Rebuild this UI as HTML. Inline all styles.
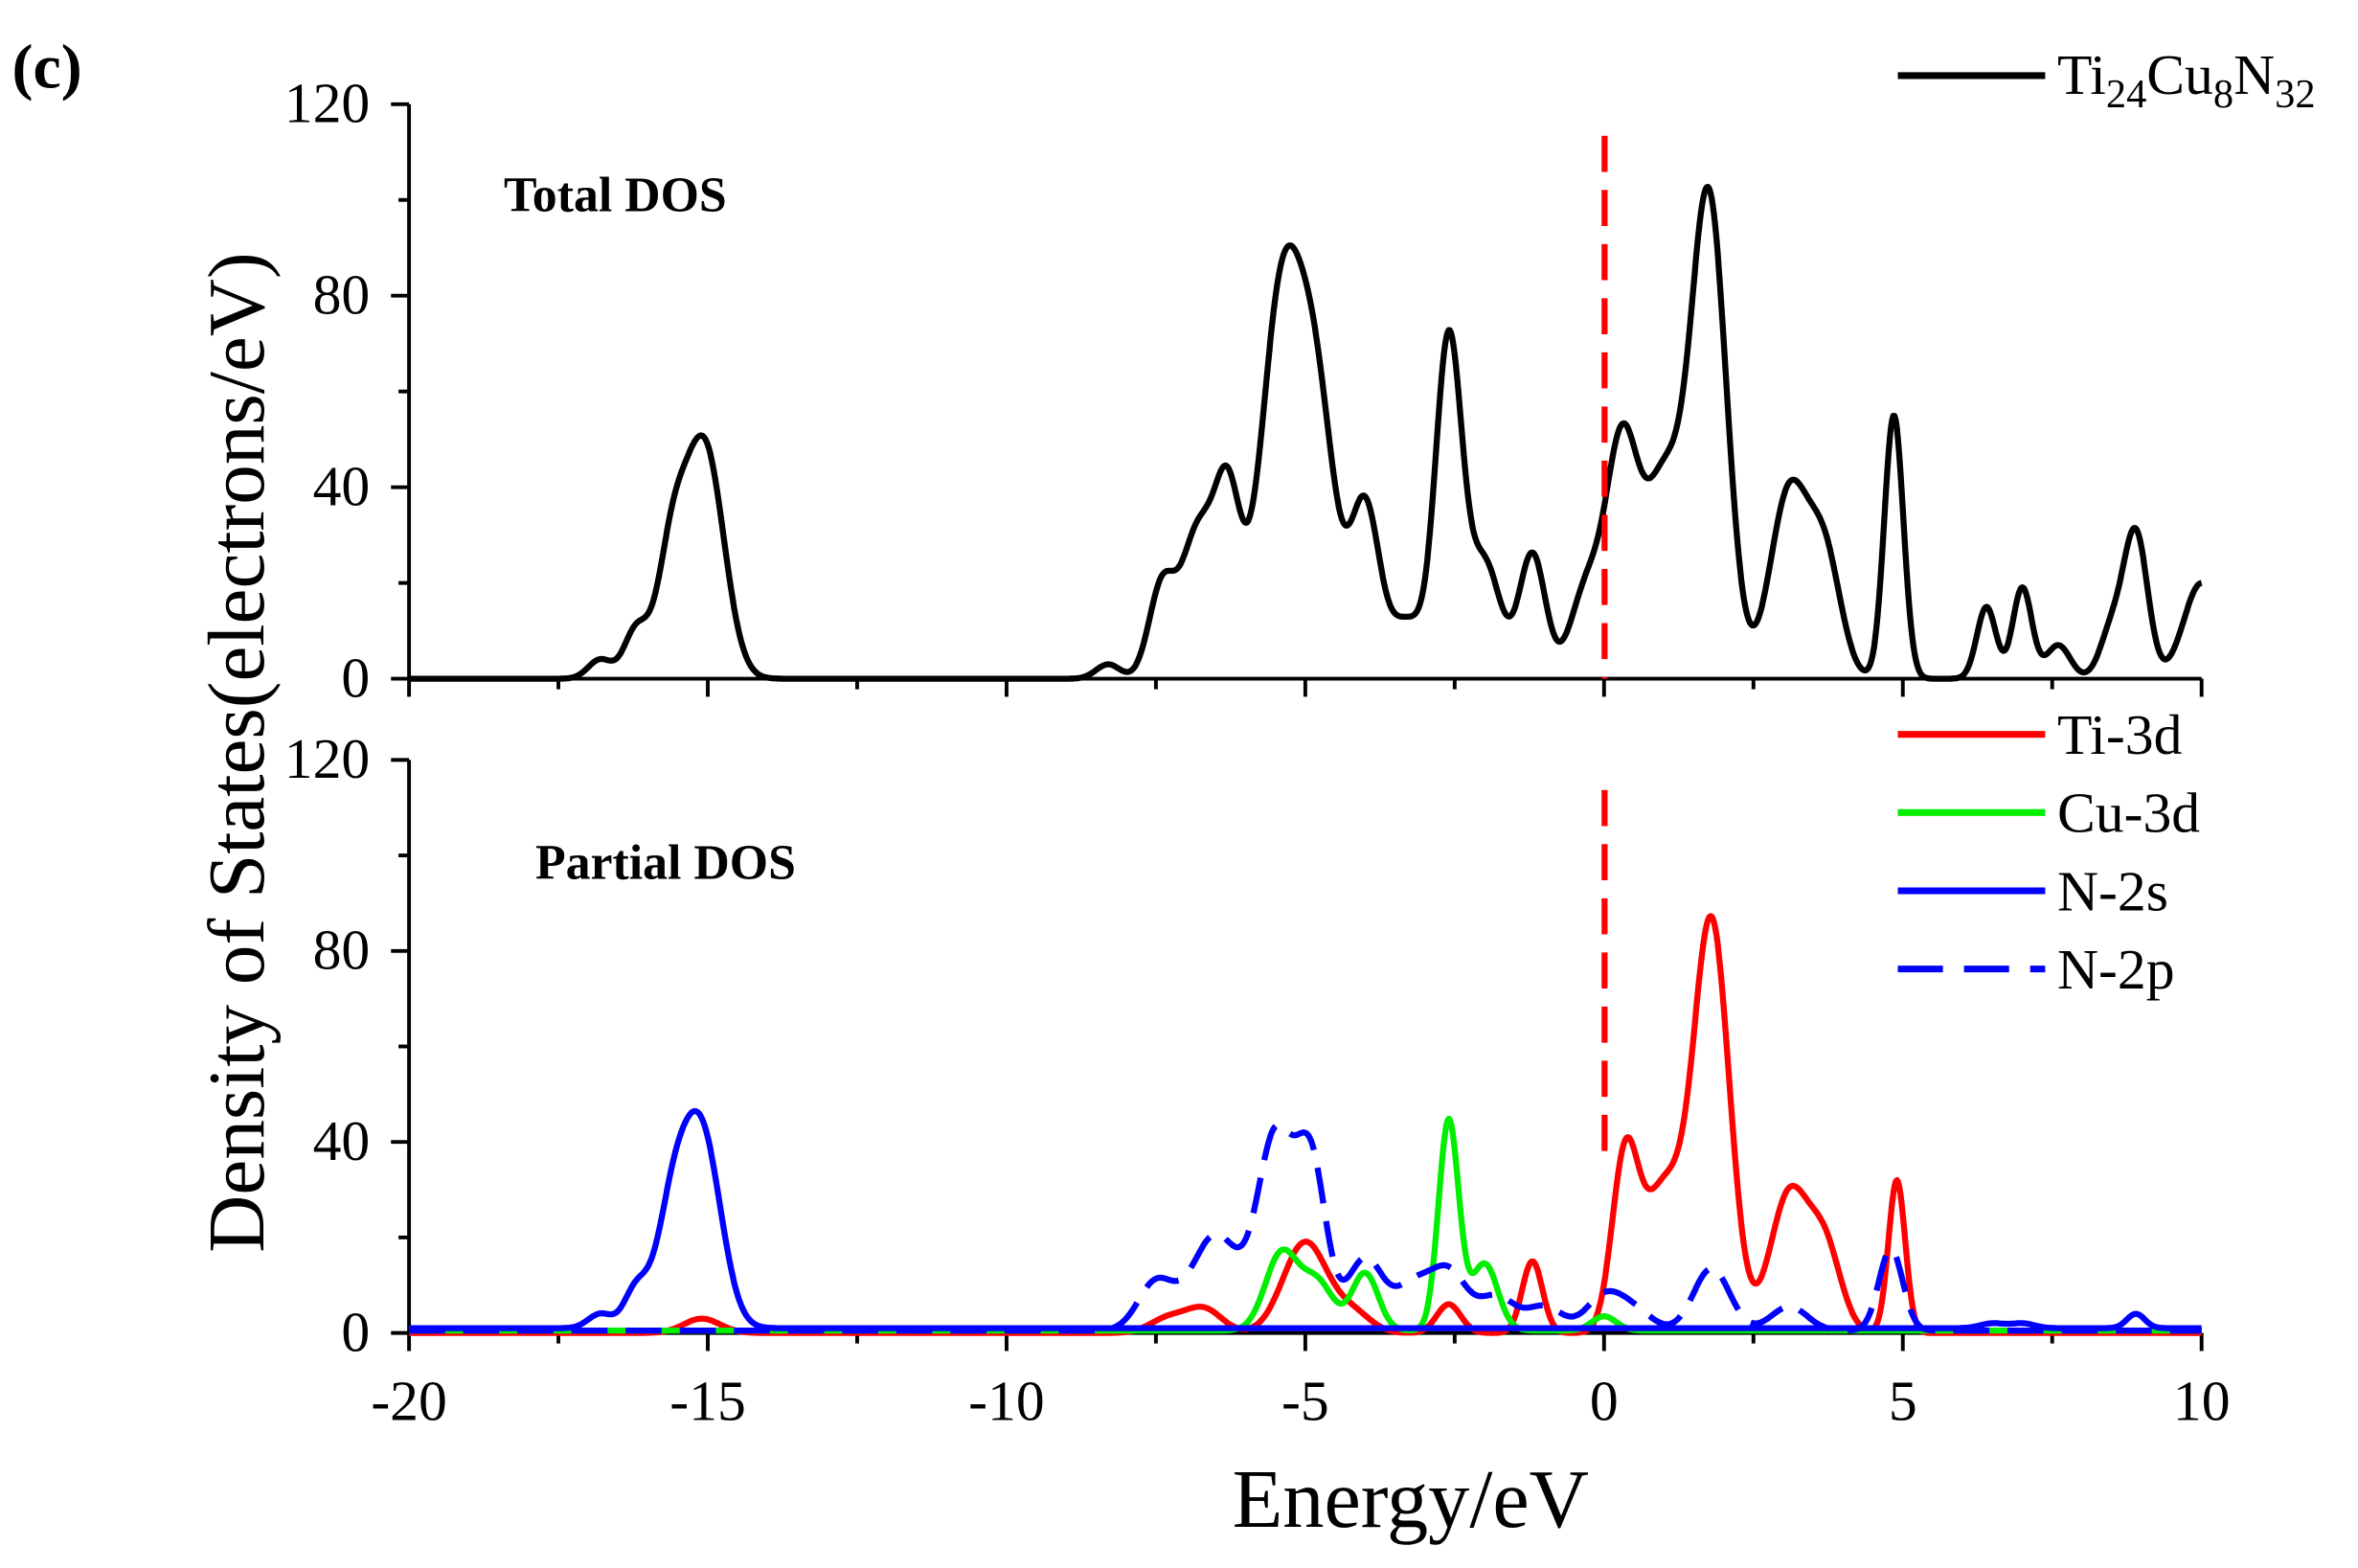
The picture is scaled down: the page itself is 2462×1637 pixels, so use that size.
<!DOCTYPE html>
<html><head><meta charset="utf-8"><style>
html,body{margin:0;padding:0;background:#fff;}
svg{display:block;}
text{font-family:"Liberation Serif",serif;fill:#000;}
</style></head><body>
<svg id="s" width="2462" height="1637" viewBox="0 0 1568 1042" xmlns="http://www.w3.org/2000/svg">
<rect width="1568" height="1042" fill="#fff"/>
<text x="8" y="58" font-size="42" font-weight="bold">(c)</text>
<g id="axes" stroke="#000" stroke-width="2.5" fill="none"></g>
<g id="curves" fill="none" stroke-width="4" stroke-linejoin="round"></g>
<line x1="1067" y1="90" x2="1067" y2="451" stroke="#ff0000" stroke-width="4" stroke-dasharray="24,12"/>
<line x1="1067" y1="525" x2="1067" y2="775" stroke="#ff0000" stroke-width="4" stroke-dasharray="24,12"/>
<g id="labels" font-size="38"></g>
<text x="335" y="140" font-size="33" font-weight="bold">Total DOS</text>
<text x="356" y="584" font-size="33" font-weight="bold">Partial DOS</text>
<text x="938" y="1015" font-size="55" text-anchor="middle">Energy/eV</text>
<text transform="translate(175,500) rotate(-90)" font-size="53" text-anchor="middle">Density of States(electrons/eV)</text>
<line x1="1262" y1="50" x2="1360" y2="50" stroke="#000" stroke-width="4.5"/>
<text x="1368" y="62" font-size="38">Ti<tspan font-size="27" dy="9">24</tspan><tspan dy="-9">Cu</tspan><tspan font-size="27" dy="9">8</tspan><tspan dy="-9">N</tspan><tspan font-size="27" dy="9">32</tspan></text>
<line x1="1262" y1="488" x2="1360" y2="488" stroke="#ff0000" stroke-width="4.5"/>
<text x="1368" y="501" font-size="38">Ti-3d</text>
<line x1="1262" y1="540" x2="1360" y2="540" stroke="#00ee00" stroke-width="4.5"/>
<text x="1368" y="553" font-size="38">Cu-3d</text>
<line x1="1262" y1="592" x2="1360" y2="592" stroke="#0000ff" stroke-width="4.5"/>
<text x="1368" y="605" font-size="38">N-2s</text>
<line x1="1262" y1="644" x2="1360" y2="644" stroke="#0000ff" stroke-width="4.5" stroke-dasharray="30,14"/>
<text x="1368" y="657" font-size="38">N-2p</text>
</svg>
<script>
const NS="http://www.w3.org/2000/svg";
const X=e=>272+(e+20)*39.733;
const axes=document.getElementById('axes'),lab=document.getElementById('labels'),cur=document.getElementById('curves');
function el(p,t,a,txt){const n=document.createElementNS(NS,t);for(const k in a)n.setAttribute(k,a[k]);if(txt)n.textContent=txt;p.appendChild(n);return n;}
const panels=[{y0:451,y1:69},{y0:886,y1:505}];
panels.forEach((p,i)=>{
 const Y=v=>p.y0+(p.y1-p.y0)*v/120;
 el(axes,'line',{x1:272,y1:p.y0,x2:1464,y2:p.y0});
 el(axes,'line',{x1:272,y1:p.y0,x2:272,y2:p.y1});
 for(let v=0;v<=120;v+=20){const L=v%40==0?12:7;el(axes,'line',{x1:272-L,y1:Y(v),x2:272,y2:Y(v)});
  if(v%40==0)el(lab,'text',{x:246,y:Y(v)+12,'text-anchor':'end'},String(v));}
 for(let e=-20;e<=10;e+=2.5){const L=e%5==0?12:7;el(axes,'line',{x1:X(e),y1:p.y0,x2:X(e),y2:p.y0+L});
  if(i==1&&e%5==0)el(lab,'text',{x:X(e),y:944,'text-anchor':'middle'},String(e));}
});
function curve(pi,G,base,color,dash){
 const p=panels[pi];const Y=v=>p.y0+(p.y1-p.y0)*v/120;let d='';
 for(let e=-20;e<=10.001;e+=0.02){let v=base;for(const g of G)v+=g[1]*Math.exp(-((e-g[0])**2)/(2*g[2]*g[2]));
  d+=(d?'L':'M')+X(e).toFixed(1)+','+Y(v).toFixed(1);}
 const a={d:d,stroke:color};if(dash)a['stroke-dasharray']=dash;el(cur,'path',a);
}
curve(0,[[-16.8,4,.2],[-16.2,10,.2],[-15.6,25,.25],[-15.05,48,.32],[-8.3,3,.2],[-7.4,19,.22],[-6.8,30,.27],[-6.3,36,.22],[-5.4,78,.35],[-4.8,52,.32],[-4.0,35,.24],[-3.3,12,.3],[-2.6,70,.22],[-2.0,24,.27],[-1.2,26,.22],[-0.3,18,.27],[0.3,48,.27],[1.0,40,.32],[1.75,100,.3],[3.1,39,.32],[3.7,24,.27],[4.85,55,.16],[6.4,15,.16],[7.0,19,.16],[7.6,7,.2],[8.5,10,.2],[8.9,30,.2],[10,20,.3]],0,'#000');
curve(1,[[-15.1,3,.3],[-7.3,3,.3],[-6.7,5,.3],[-5,19,.37],[-4.2,4,.3],[-2.6,6,.2],[-1.2,15,.17],[0.35,35,.22],[1.0,30,.35],[1.8,85,.3],[3.1,29,.32],[3.7,17,.27],[4.9,32,.14]],0,'#ff0000');
curve(1,[[-5.4,16,.27],[-4.8,10,.27],[-4.0,12,.22],[-2.6,44,.17],[-2.0,14,.22],[0,3,.2]],0.5,'#00ee00');
curve(1,[[-16.8,3,.2],[-16.2,8,.2],[-15.6,22,.27],[-15.1,40,.32],[6.5,1,.2],[7,1,.2],[8.9,3,.15]],1,'#0000ff');
curve(1,[[-7.5,10,.3],[-6.5,20,.4],[-5.5,40,.3],[-4.9,34,.25],[-4,15,.3],[-3.2,9,.3],[-2.6,12,.3],[-1.8,7,.3],[-1,5,.3],[0,7,.3],[0.5,4,.3],[1.8,13,.3],[3.1,5,.3],[4.8,17,.2]],0.5,'#0000ff','24,12');
</script>
</body></html>
